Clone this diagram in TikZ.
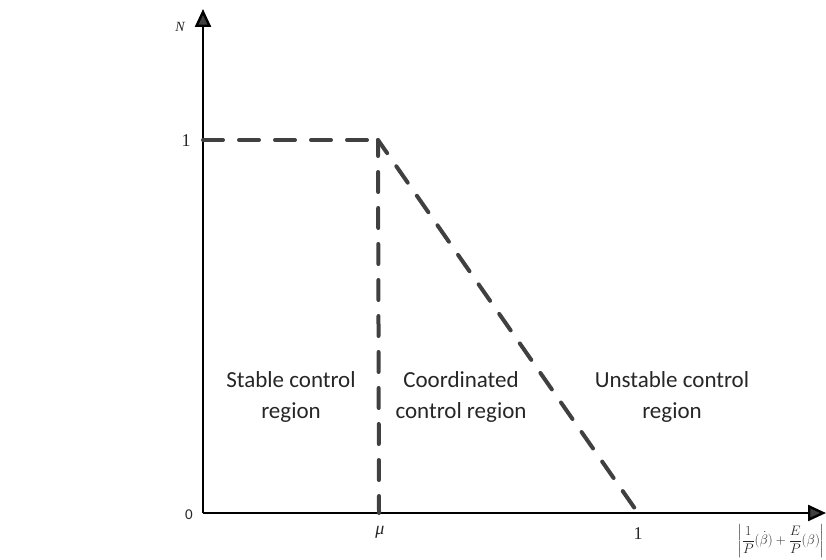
\documentclass[tikz,border=0pt]{standalone}
\usepackage{fontspec}
\usepackage{amsmath}
\usepackage{graphicx}
\newfontfamily\regionfont{Carlito}
\newfontfamily\numfont{Liberation Serif}
\usetikzlibrary{arrows.meta}
\begin{document}
\begin{tikzpicture}[x=1pt,y=-1pt,
  axis/.style={line width=2.4pt,black,-{Triangle[length=18pt,width=16pt,fill=black!75]}},
  curve/.style={line width=4pt,black!75,line cap=round,dash pattern=on 20pt off 16pt},
  regiontext/.style={font=\regionfont\fontsize{23}{31}\selectfont,align=center,text=black!85},
  ticklabel/.style={font=\numfont\fontsize{18}{20}\selectfont,text=black!85}]
\useasboundingbox (0,0) rectangle (826,559);
\coordinate (O) at (203,513);
\coordinate (ytop) at (203,9);
\coordinate (xend) at (826,513);
\coordinate (L) at (203,140);
\coordinate (P) at (378,140);
\coordinate (M) at (379,513);
\coordinate (U) at (638,513);
\draw[axis] (O) -- (ytop);
\draw[axis] (O) -- (xend);
\draw[curve] (L) -- (P);
\draw[curve,dash phase=4pt] (P) -- (M);
\draw[curve,dash phase=4pt] (P) -- (U);
\node[ticklabel] (n) at (180,27) {\fontsize{14}{15}\selectfont\itshape N};
\node[ticklabel] (one) at (186,141) {1};
\node[ticklabel,font=\regionfont\fontsize{15}{17}\selectfont] (zero) at (189,515) {0};
\node[ticklabel] (mu) at (380,532) {\itshape μ};
\node[ticklabel] (onex) at (638,534) {1};
\node[ticklabel,inner sep=0pt] (xlabel) at (781,541) {\resizebox*{87pt}{33pt}{$\left|\dfrac{1}{P}(\dot{\beta})+\dfrac{E}{P}(\beta)\right|$}};
\node[regiontext] (stable) at (291,397) {Stable control\\region};
\node[regiontext] (coord) at (461,397) {Coordinated\\control region};
\node[regiontext] (unstable) at (672,397) {Unstable control\\region};
\end{tikzpicture}
\end{document}
